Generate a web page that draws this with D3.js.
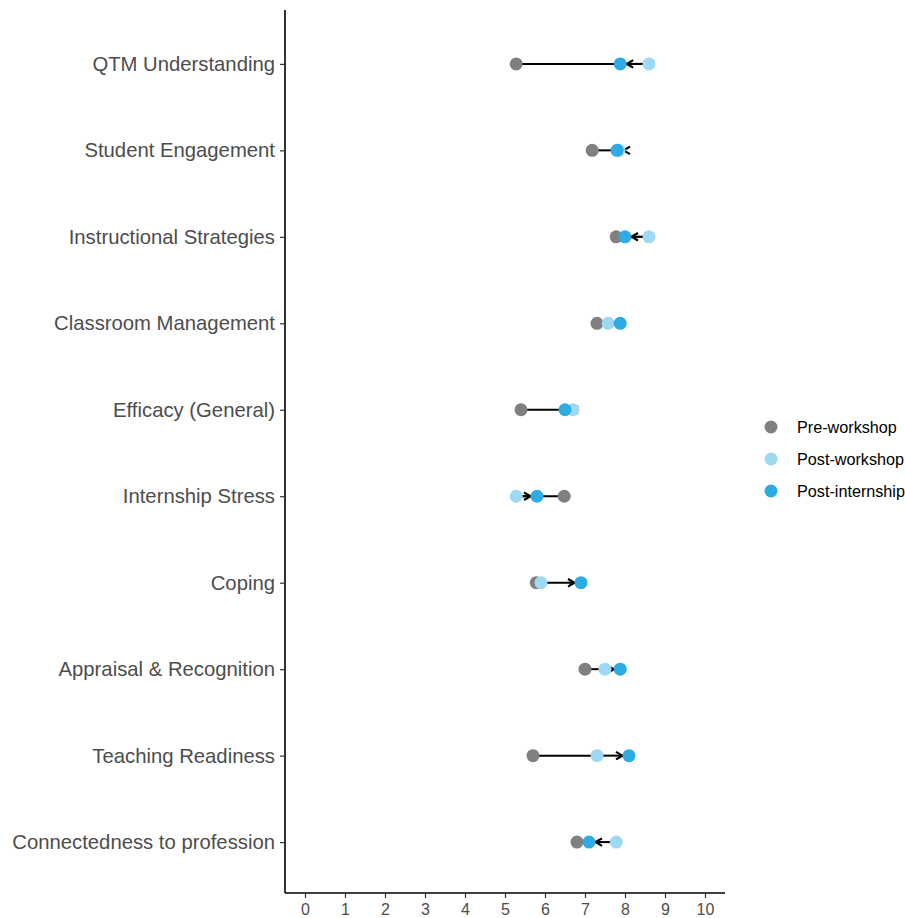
<!DOCTYPE html>
<html>
<head>
<meta charset="utf-8">
<script src="https://cdn.jsdelivr.net/npm/d3@7"></script>
<style>
  body { margin: 0; background: #fff; }
  svg { display: block; font-family: "Liberation Sans", Arial, sans-serif; }
</style>
</head>
<body>
<svg id="chart" width="905" height="918"></svg>
<script>
// Scales measured on a 0-10 rating
const categories = [
  "QTM Understanding",
  "Student Engagement",
  "Instructional Strategies",
  "Classroom Management",
  "Efficacy (General)",
  "Internship Stress",
  "Coping",
  "Appraisal & Recognition",
  "Teaching Readiness",
  "Connectedness to profession"
];
const preWorkshop    = [5.28, 7.18, 7.78, 7.30, 5.40, 6.48, 5.78, 7.00, 5.70, 6.80];
const postWorkshop   = [8.60, 7.85, 8.60, 7.58, 6.70, 5.28, 5.90, 7.50, 7.30, 7.78];
const postInternship = [7.88, 7.80, 8.00, 7.88, 6.50, 5.80, 6.90, 7.88, 8.10, 7.10];
const xTicks = [0, 1, 2, 3, 4, 5, 6, 7, 8, 9, 10];
const seriesNames  = ["Pre-workshop", "Post-workshop", "Post-internship"];
const seriesColors = ["#808080", "#9dd9f3", "#2eabe2"];

const svg = d3.select("#chart");
const panel = { left: 285, right: 725, top: 10, bottom: 893 };
const r = 6.5;

const x = d3.scaleLinear().domain([-0.5, 10.5]).range([panel.left, panel.right]);
const y = d3.scalePoint().domain(categories).range([12, 894]).padding(0.6);

const rows = categories.map((c, i) => ({
  cat: c, pre: preWorkshop[i], pw: postWorkshop[i], pi: postInternship[i]
}));

// Segments: pre-workshop -> post-workshop
svg.append("g").selectAll("line").data(rows).join("line")
  .attr("x1", d => x(d.pre)).attr("x2", d => x(d.pw))
  .attr("y1", d => y(d.cat)).attr("y2", d => y(d.cat))
  .attr("stroke", "#000").attr("stroke-width", 2);

// Arrows: post-workshop -> post-internship, stopping at the point's edge
const arrows = svg.append("g");
rows.forEach(d => {
  const yy = y(d.cat);
  const x0 = x(d.pw), x1 = x(d.pi);
  const dir = Math.sign(x0 - x1) || 1;   // direction from the tip back toward the start
  const tip = x1 + dir * r;
  arrows.append("line")
    .attr("x1", x0).attr("x2", tip).attr("y1", yy).attr("y2", yy)
    .attr("stroke", "#000").attr("stroke-width", 2);
  const len = 7.5, ang = Math.PI / 6;
  arrows.append("path")
    .attr("d", `M${tip + dir * len * Math.cos(ang)},${yy - len * Math.sin(ang)}L${tip},${yy}L${tip + dir * len * Math.cos(ang)},${yy + len * Math.sin(ang)}`)
    .attr("fill", "none").attr("stroke", "#000").attr("stroke-width", 2.2)
    .attr("stroke-linejoin", "miter");
});

// Points, drawn in series order
const pointSets = [
  rows.map(d => ({ cat: d.cat, v: d.pre })),
  rows.map(d => ({ cat: d.cat, v: d.pw })),
  rows.map(d => ({ cat: d.cat, v: d.pi }))
];
pointSets.forEach((set, k) => {
  svg.append("g").selectAll("circle").data(set).join("circle")
    .attr("cx", d => x(d.v)).attr("cy", d => y(d.cat)).attr("r", r)
    .attr("fill", seriesColors[k]);
});

// Axes
const xAxis = svg.append("g").attr("transform", `translate(0,${panel.bottom})`)
  .call(d3.axisBottom(x).tickValues(xTicks).tickSize(5).tickPadding(6));
const yAxis = svg.append("g").attr("transform", `translate(${panel.left},0)`)
  .call(d3.axisLeft(y).tickSize(5).tickPadding(5));
[xAxis, yAxis].forEach(a => {
  a.select(".domain").attr("stroke", "#000").attr("stroke-width", 1.6);
  a.selectAll(".tick line").attr("stroke", "#333").attr("stroke-width", 1.2);
  a.selectAll(".tick text").attr("fill", "#4d4d4d").attr("font-family", "Liberation Sans, Arial, sans-serif");
});
xAxis.selectAll(".tick text").attr("font-size", 16);
yAxis.selectAll(".tick text").attr("font-size", 20.3);
// Axis lines end flush with the panel corners
xAxis.select(".domain").attr("d", `M${panel.left},0H${panel.right}`);
yAxis.select(".domain").attr("d", `M0,${panel.top}V${panel.bottom}`);

// Legend
const legend = svg.append("g").attr("transform", "translate(771,427)");
seriesNames.forEach((name, i) => {
  const g = legend.append("g").attr("transform", `translate(0,${i * 32})`);
  g.append("circle").attr("r", r).attr("fill", seriesColors[i]);
  g.append("text").attr("x", 26).attr("dy", "0.35em")
    .attr("font-size", 16.2).attr("fill", "#000").text(name);
});
</script>
</body>
</html>
